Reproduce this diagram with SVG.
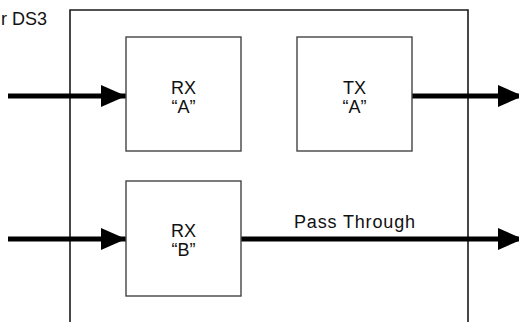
<svg xmlns="http://www.w3.org/2000/svg" width="519" height="322" viewBox="0 0 519 322">
<style>
.frame{fill:none;stroke:#1a1a1a;stroke-width:1.6}
.box{fill:#fff;stroke:#444;stroke-width:1.4}
.t{font-family:"Liberation Sans Narrow","Liberation Sans",Arial,sans-serif;font-size:18px;fill:#111;text-anchor:middle}
.conn{stroke:#000;stroke-width:5;fill:none}
</style>
<defs>
<marker id="ah" markerUnits="userSpaceOnUse" markerWidth="26" markerHeight="24" refX="25" refY="12" orient="auto">
<path d="M0,1 L25,12 L0,23 z" fill="#000"/>
</marker>
</defs>
<rect width="519" height="322" fill="#fff"/>
<text class="t" x="47" y="25" style="text-anchor:end">r DS3</text>
<path class="frame" d="M70,322 V10 H468 V322"/>
<g id="connectors">
<line class="conn" x1="8" y1="96" x2="126" y2="96" marker-end="url(#ah)"/>
<line class="conn" x1="412" y1="96" x2="523" y2="96" marker-end="url(#ah)"/>
<line class="conn" x1="8" y1="239" x2="126" y2="239" marker-end="url(#ah)"/>
<line class="conn" x1="241" y1="239" x2="523" y2="239" marker-end="url(#ah)"/>
<text class="t" x="354.5" y="228" textLength="121" lengthAdjust="spacing">Pass Through</text>
</g>
<g id="rxa">
<rect class="box" x="126" y="37" width="115" height="114"/>
<text class="t" x="183.5" y="94">RX</text>
<text class="t" x="183.5" y="113">“A”</text>
</g>
<g id="txa">
<rect class="box" x="297" y="37" width="115" height="114"/>
<text class="t" x="354.5" y="94">TX</text>
<text class="t" x="354.5" y="113">“A”</text>
</g>
<g id="rxb">
<rect class="box" x="126" y="181" width="115" height="115"/>
<text class="t" x="183.5" y="237">RX</text>
<text class="t" x="183.5" y="256">“B”</text>
</g>
</svg>
